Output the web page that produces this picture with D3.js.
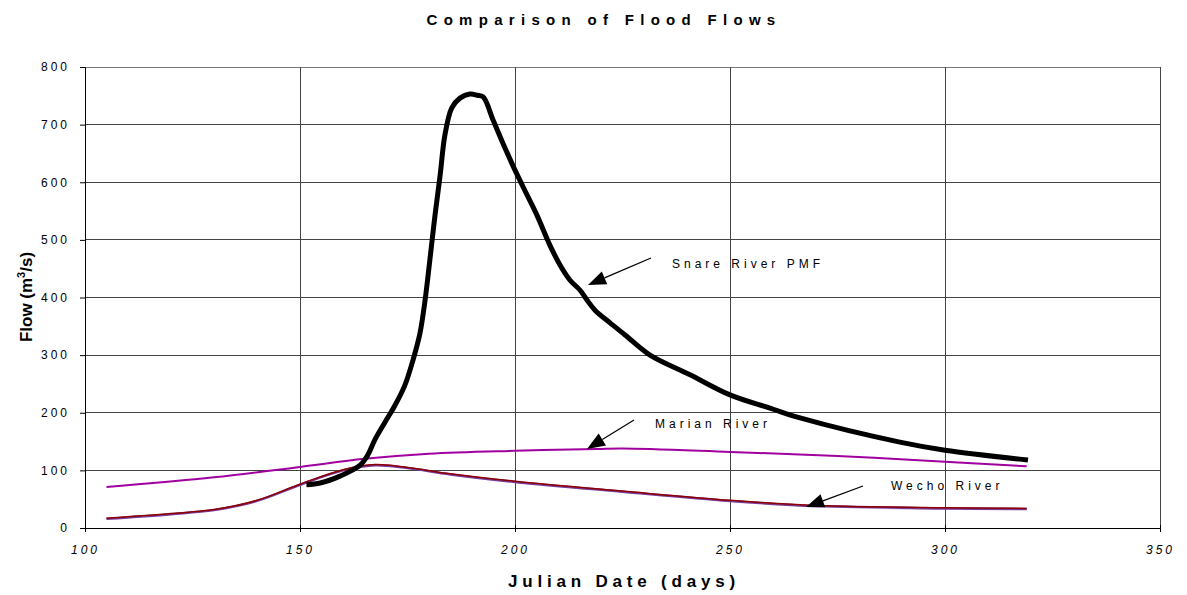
<!doctype html>
<html>
<head>
    <script src="https://d3js.org/d3.v7.min.js"></script>
    <style>
        body { margin: 0; background: #fff; }
        text { font-family: Arial, "Liberation Sans", sans-serif; }
    </style>
</head>
<body>
    <svg width="1187" height="595"></svg>
    <script>
        // tick labels
        var xTicks = [100, 150, 200, 250, 300, 350];
        var yTicks = [0, 100, 200, 300, 400, 500, 600, 700, 800];

        // series: day -> flow
        var snareDays  = [151.5, 154.7, 159.3, 164, 165.8, 167.4, 169.8, 172.1, 174.4, 176.3, 177.9, 179.1, 180.2, 181.4, 182.6, 183.7, 185.3, 187.2, 189.5, 191.2, 192.6, 194.9, 197.7, 200, 202.8, 205.1, 208.1, 210.5, 212.8, 215.1, 216.7, 218.6, 222.1, 225.6, 231.4, 240.7, 250, 259.3, 266.3, 289.5, 300, 319.3];
        var snareFlows = [75, 78, 90, 109, 127, 153, 184, 213, 248, 292, 338, 396, 465, 543, 613, 682, 729, 746, 753, 751, 748, 708, 659, 621, 578, 543, 491, 456, 430, 413, 396, 378, 356, 335, 300, 266, 231, 208, 191, 149, 135, 118];

        var marianDays  = [105, 130, 150, 165, 180, 200, 219, 225, 250, 275, 300, 319];
        var marianFlows = [71, 88, 106, 120, 129, 134, 137, 138, 132, 125, 115, 107];

        var wechoDays  = [105, 120, 130, 140, 150, 160, 167.5, 175, 185, 200, 225, 250, 270, 300, 319];
        var wechoFlows = [16, 24, 31, 47, 75, 100, 109, 104, 93, 80, 63, 47, 38, 34, 33];

        var svg = d3.select("svg");
        var x = d3.scaleLinear().domain([100, 350]).range([85, 1160]);
        var y = d3.scaleLinear().domain([0, 800]).range([528, 67]);

        function zip(a, b) { return a.map((d, i) => [d, b[i]]); }

        // grid
        svg.append("g").selectAll("line").data(yTicks).enter().append("line")
            .attr("x1", x(100)).attr("x2", x(350))
            .attr("y1", d => y(d)).attr("y2", d => y(d))
            .attr("stroke", d => d === 800 ? "#777" : "#444").attr("stroke-width", 1)
            .attr("shape-rendering", "crispEdges");
        svg.append("g").selectAll("line").data(xTicks).enter().append("line")
            .attr("x1", d => x(d)).attr("x2", d => x(d))
            .attr("y1", y(0)).attr("y2", y(800))
            .attr("stroke", "#444").attr("stroke-width", 1)
            .attr("shape-rendering", "crispEdges");

        // axes
        var xAxis = d3.axisBottom(x).tickValues(xTicks).tickSize(4).tickPadding(10);
        var gx = svg.append("g").attr("transform", "translate(0," + y(0) + ")").call(xAxis);
        gx.select(".domain").attr("stroke", "#000");
        gx.selectAll(".tick line").attr("y1", -3).attr("stroke", "#000");
        gx.selectAll("text").attr("font-size", 12).attr("font-style", "italic")
            .attr("letter-spacing", "3px").attr("fill", "#000").attr("dy", "1em");

        var yAxis = d3.axisLeft(y).tickValues(yTicks).tickSize(5).tickPadding(10);
        var gy = svg.append("g").attr("transform", "translate(" + x(100) + ",0)").call(yAxis);
        gy.select(".domain").attr("stroke", "#000");
        gy.selectAll("text").attr("font-size", 12).attr("letter-spacing", "3px").attr("fill", "#000");

        var line = d3.line().x(d => x(d[0])).y(d => y(d[1])).curve(d3.curveCatmullRom);

        // Marian River
        svg.append("path").datum(zip(marianDays, marianFlows)).attr("d", line)
            .attr("fill", "none").attr("stroke", "#a000a0").attr("stroke-width", 2);

        // Wecho River (purple under dark red)
        svg.append("path").datum(zip(wechoDays, wechoFlows)).attr("d", line)
            .attr("fill", "none").attr("stroke", "#7a3a9a").attr("stroke-width", 2.5);
        svg.append("path").datum(zip(wechoDays, wechoFlows)).attr("d", line)
            .attr("transform", "translate(0,-0.6)")
            .attr("fill", "none").attr("stroke", "#8b0000").attr("stroke-width", 1.5);

        // Snare River PMF
        svg.append("path").datum(zip(snareDays, snareFlows)).attr("d", line)
            .attr("fill", "none").attr("stroke", "#000").attr("stroke-width", 5)
            .attr("stroke-linejoin", "round");

        // annotations
        var notes = [
            {label: "Snare River PMF", tx: 672, ty: 268, x1: 651, y1: 258, x2: 588, y2: 285},
            {label: "Marian River", tx: 655, ty: 428, x1: 634, y1: 420, x2: 587, y2: 449},
            {label: "Wecho River", tx: 891, ty: 490, x1: 863, y1: 486, x2: 806, y2: 507}
        ];
        notes.forEach(function (n) {
            svg.append("text").attr("x", n.tx).attr("y", n.ty).attr("font-size", 12)
                .attr("letter-spacing", "4px").attr("fill", "#000").text(n.label);
            var ang = Math.atan2(n.y2 - n.y1, n.x2 - n.x1);
            var len = 18, w = 7;
            var bx = n.x2 - len * Math.cos(ang), by = n.y2 - len * Math.sin(ang);
            svg.append("line").attr("x1", n.x1).attr("y1", n.y1).attr("x2", bx).attr("y2", by)
                .attr("stroke", "#000").attr("stroke-width", 1.3);
            var px = -Math.sin(ang) * w, py = Math.cos(ang) * w;
            svg.append("path")
                .attr("d", "M" + n.x2 + "," + n.y2 + "L" + (bx + px) + "," + (by + py) + "L" + (bx - px) + "," + (by - py) + "Z")
                .attr("fill", "#000");
        });

        // titles
        svg.append("text").attr("x", 604).attr("y", 25).attr("text-anchor", "middle")
            .attr("font-size", 15).attr("font-weight", "bold").attr("letter-spacing", "6.3px")
            .text("Comparison of Flood Flows");

        svg.append("text").attr("x", 624).attr("y", 587).attr("text-anchor", "middle")
            .attr("font-size", 17).attr("font-weight", "bold").attr("letter-spacing", "4.8px")
            .text("Julian Date (days)");

        var yl = svg.append("text").attr("transform", "translate(32,297) rotate(-90)")
            .attr("text-anchor", "middle").attr("font-size", 17).attr("font-weight", "bold");
        yl.append("tspan").text("Flow (m");
        yl.append("tspan").attr("font-size", 11).attr("dy", -7).text("3");
        yl.append("tspan").attr("dy", 7).text("/s)");
    </script>
</body>
</html>
